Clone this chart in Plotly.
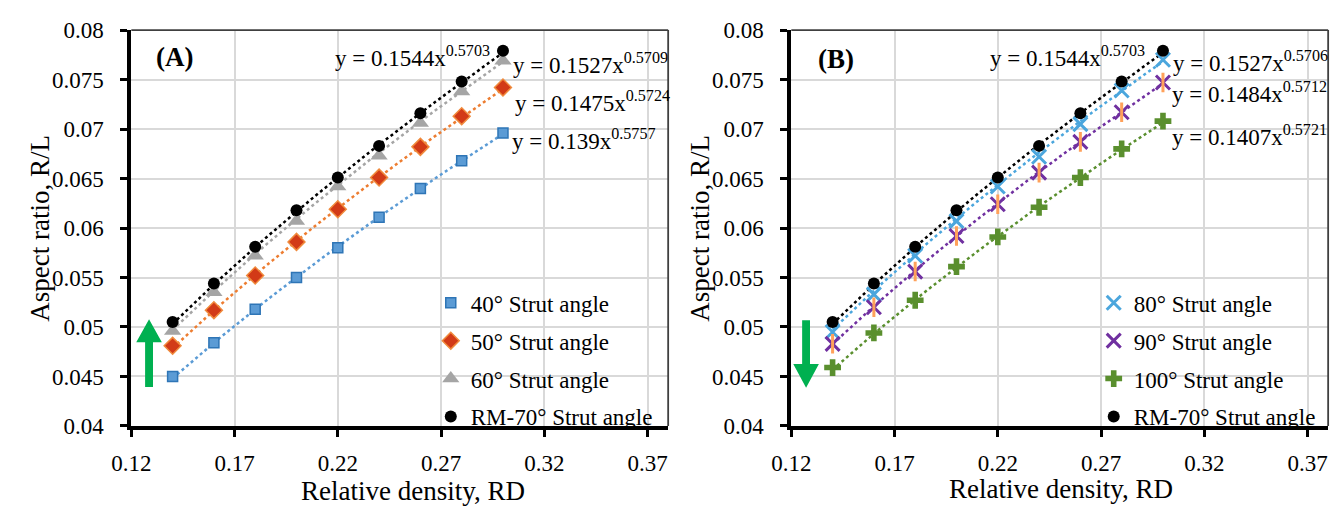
import numpy as np
import plotly.graph_objects as go

W, H = 1338, 517
FONT = "Liberation Serif"

# Relative density (x) shared by every series
rd = [0.14, 0.16, 0.18, 0.20, 0.22, 0.24, 0.26, 0.28, 0.30]

# Aspect ratio R/L per strut angle
ar_40 = [0.0450, 0.0484, 0.0518, 0.0550, 0.0580, 0.0611, 0.0640, 0.0668, 0.0696]
ar_50 = [0.0481, 0.0517, 0.0552, 0.0586, 0.0619, 0.0651, 0.0682, 0.0713, 0.0742]
ar_60 = [0.0496, 0.0535, 0.0572, 0.0607, 0.0642, 0.0673, 0.0706, 0.0738, 0.0769]
ar_rm70 = [0.0505, 0.0544, 0.0581, 0.0618, 0.0651, 0.0683, 0.0716, 0.0748, 0.0779]
ar_80 = [0.0495, 0.0533, 0.0572, 0.0607, 0.0642, 0.0672, 0.0705, 0.0739, 0.0770]
ar_90 = [0.0483, 0.0520, 0.0556, 0.0592, 0.0624, 0.0656, 0.0687, 0.0717, 0.0747]
ar_100 = [0.0459, 0.0494, 0.0527, 0.0561, 0.0591, 0.0621, 0.0651, 0.0680, 0.0708]

# Power-law trendline coefficients y = a * x^b
fit_a_left = [0.139, 0.1475, 0.1527, 0.1544]
fit_b_left = [0.5757, 0.5724, 0.5709, 0.5703]
fit_a_right = [0.1527, 0.1484, 0.1407, 0.1544]
fit_b_right = [0.5706, 0.5712, 0.5721, 0.5703]

x_ticks = [0.12, 0.17, 0.22, 0.27, 0.32, 0.37]
x_ticktext = ["0.12", "0.17", "0.22", "0.27", "0.32", "0.37"]
y_ticks = [0.04, 0.045, 0.05, 0.055, 0.06, 0.065, 0.07, 0.075, 0.08]
y_ticktext = ["0.04", "0.045", "0.05", "0.055", "0.06", "0.065", "0.07", "0.075", "0.08"]


def px_x(p):
    return p / W


def px_y(p):
    return 1 - p / H


fig = go.Figure()

left = [
    ("40° Strut angle", ar_40, "#5B9BD5",
     dict(symbol="square", size=10, color="#5B9BD5", line=dict(color="#2E75B6", width=1.5))),
    ("50° Strut angle", ar_50, "#ED7D31",
     dict(symbol="diamond", size=13, color="#D23A17", line=dict(color="#F08A3C", width=1.5))),
    ("60° Strut angle", ar_60, "#A5A5A5",
     dict(symbol="triangle-up", size=15, color="#A5A5A5", line=dict(width=0))),
    ("RM-70° Strut angle", ar_rm70, "#000000",
     dict(symbol="circle", size=12, color="#000000", line=dict(width=0))),
]
right = [
    ("80° Strut angle", ar_80, "#4BA6DD",
     dict(symbol="x-thin-open", size=14, color="#4BA6DD", line=dict(color="#4BA6DD", width=3))),
    ("90° Strut angle", ar_90, "#7030A0",
     dict(symbol="x-thin-open", size=14, color="#7030A0", line=dict(color="#7030A0", width=3))),
    ("100° Strut angle", ar_100, "#5A8F2E",
     dict(symbol="cross", size=14, color="#5A8F2E", line=dict(width=0))),
    ("RM-70° Strut angle", ar_rm70, "#000000",
     dict(symbol="circle", size=12, color="#000000", line=dict(width=0))),
]

xs_fit = np.linspace(rd[0], rd[-1], 60)

# dotted power-law trendlines first so markers sit on top
for series, fa, fb, xa, ya in [(left, fit_a_left, fit_b_left, "x", "y"),
                               (right, fit_a_right, fit_b_right, "x2", "y2")]:
    for (name, vals, lc, mk), a, b in zip(series, fa, fb):
        fig.add_trace(go.Scatter(
            x=xs_fit, y=a * xs_fit ** b, mode="lines",
            line=dict(color=lc, width=2.5, dash="dot"),
            showlegend=False, hoverinfo="skip", xaxis=xa, yaxis=ya))

for series, xa, ya, lg in [(left, "x", "y", "legend"), (right, "x2", "y2", "legend2")]:
    for i, (name, vals, lc, mk) in enumerate(series):
        fig.add_trace(go.Scatter(
            x=rd, y=vals, mode="markers", name=name, marker=mk,
            xaxis=xa, yaxis=ya, legend=lg, legendgroup=f"{lg}-{i}"))
        if name.startswith("90"):
            # vertical stroke turns the X into a six-armed star
            fig.add_trace(go.Scatter(
                x=rd, y=vals, mode="markers", showlegend=False,
                marker=dict(symbol="line-ns-open", size=14,
                            line=dict(color=mk["color"], width=3)),
                xaxis=xa, yaxis=ya, legendgroup=f"{lg}-{i}"))

axis_common = dict(
    showgrid=True, gridcolor="#D9D9D9", gridwidth=1.5, zeroline=False,
    showline=True, linecolor="#000000", linewidth=4,
    ticks="outside", ticklen=7, tickwidth=3, tickcolor="#000000",
    tickfont=dict(family=FONT, size=23, color="#000000"),
)

dom_a = [px_x(113), px_x(658)]
dom_b = [px_x(783), px_x(1328)]
dom_y = [px_y(435), px_y(19)]

legend_common = dict(xanchor="left", yanchor="top", bgcolor="rgba(0,0,0,0)",
                     font=dict(family=FONT, size=23, color="#000000"),
                     traceorder="grouped", tracegroupgap=5, itemwidth=30)

fig.update_layout(
    width=W, height=H, margin=dict(l=0, r=0, t=0, b=0),
    paper_bgcolor="#FFFFFF", plot_bgcolor="#FFFFFF",
    font=dict(family=FONT, size=23, color="#000000"),
    xaxis=dict(domain=dom_a, range=[0.12, 0.38], tickvals=x_ticks, ticktext=x_ticktext,
               anchor="y", ticklabelstandoff=6, **axis_common),
    yaxis=dict(domain=dom_y, range=[0.04, 0.08], tickvals=y_ticks, ticktext=y_ticktext,
               anchor="x", ticklabelstandoff=12, **axis_common),
    xaxis2=dict(domain=dom_b, range=[0.12, 0.38], tickvals=x_ticks, ticktext=x_ticktext,
                anchor="y2", ticklabelstandoff=6, **axis_common),
    yaxis2=dict(domain=dom_y, range=[0.04, 0.08], tickvals=y_ticks, ticktext=y_ticktext,
                anchor="x2", ticklabelstandoff=12, **axis_common),
    legend=dict(x=px_x(417), y=px_y(283), **legend_common),
    legend2=dict(x=px_x(1090), y=px_y(283), **legend_common),
    showlegend=True,
)

# thin top / right frame lines
for xr, yr in [("x domain", "y domain"), ("x2 domain", "y2 domain")]:
    fig.add_shape(type="line", xref=xr, yref=yr, x0=0, x1=1, y0=1, y1=1,
                  line=dict(color="#404040", width=1.8))
    fig.add_shape(type="line", xref=xr, yref=yr, x0=1, x1=1, y0=0, y1=1,
                  line=dict(color="#404040", width=1.8))

# green trend arrows
up = ("M 0.12668,0.04394 L 0.12668,0.04846 L 0.12239,0.04846 L 0.12859,0.05077 "
      "L 0.13479,0.04846 L 0.13050,0.04846 L 0.13050,0.04394 Z")
down = ("M 0.12525,0.05067 L 0.12525,0.04625 L 0.12096,0.04625 L 0.12716,0.04385 "
        "L 0.13336,0.04625 L 0.12907,0.04625 L 0.12907,0.05067 Z")
fig.add_shape(type="path", path=up, xref="x", yref="y",
              fillcolor="#00B050", line=dict(width=0))
fig.add_shape(type="path", path=down, xref="x2", yref="y2",
              fillcolor="#00B050", line=dict(width=0))


def note(text, x, y, size=23, xanchor="left", **kw):
    fig.add_annotation(text=text, x=px_x(x), y=px_y(y), xref="paper", yref="paper",
                       xanchor=xanchor, yanchor="middle", showarrow=False,
                       font=dict(family=FONT, size=size, color="#000000"), **kw)


# panel tags
note("<b>(A)</b>", 157, 47, size=27, xanchor="center")
note("<b>(B)</b>", 828, 49, size=27, xanchor="center")

# trendline equations
note("y = 0.1544x<sup>0.5703</sup>", 318, 47)
note("y = 0.1527x<sup>0.5709</sup>", 498, 54)
note("y = 0.1475x<sup>0.5724</sup>", 500, 94)
note("y = 0.139x<sup>0.5757</sup>", 497, 134)
note("y = 0.1544x<sup>0.5703</sup>", 983, 47)
note("y = 0.1527x<sup>0.5706</sup>", 1168, 52)
note("y = 0.1484x<sup>0.5712</sup>", 1167, 85)
note("y = 0.1407x<sup>0.5721</sup>", 1167, 130)

# axis titles
note("Relative density, RD", 399, 503, size=27, xanchor="center")
note("Relative density, RD", 1057, 501, size=27, xanchor="center")
note("Aspect ratio, R/L", 20, 227, size=27, xanchor="center", textangle=-90)
note("Aspect ratio, R/L", 690, 227, size=27, xanchor="center", textangle=-90)

fig.write_html("out.html")
